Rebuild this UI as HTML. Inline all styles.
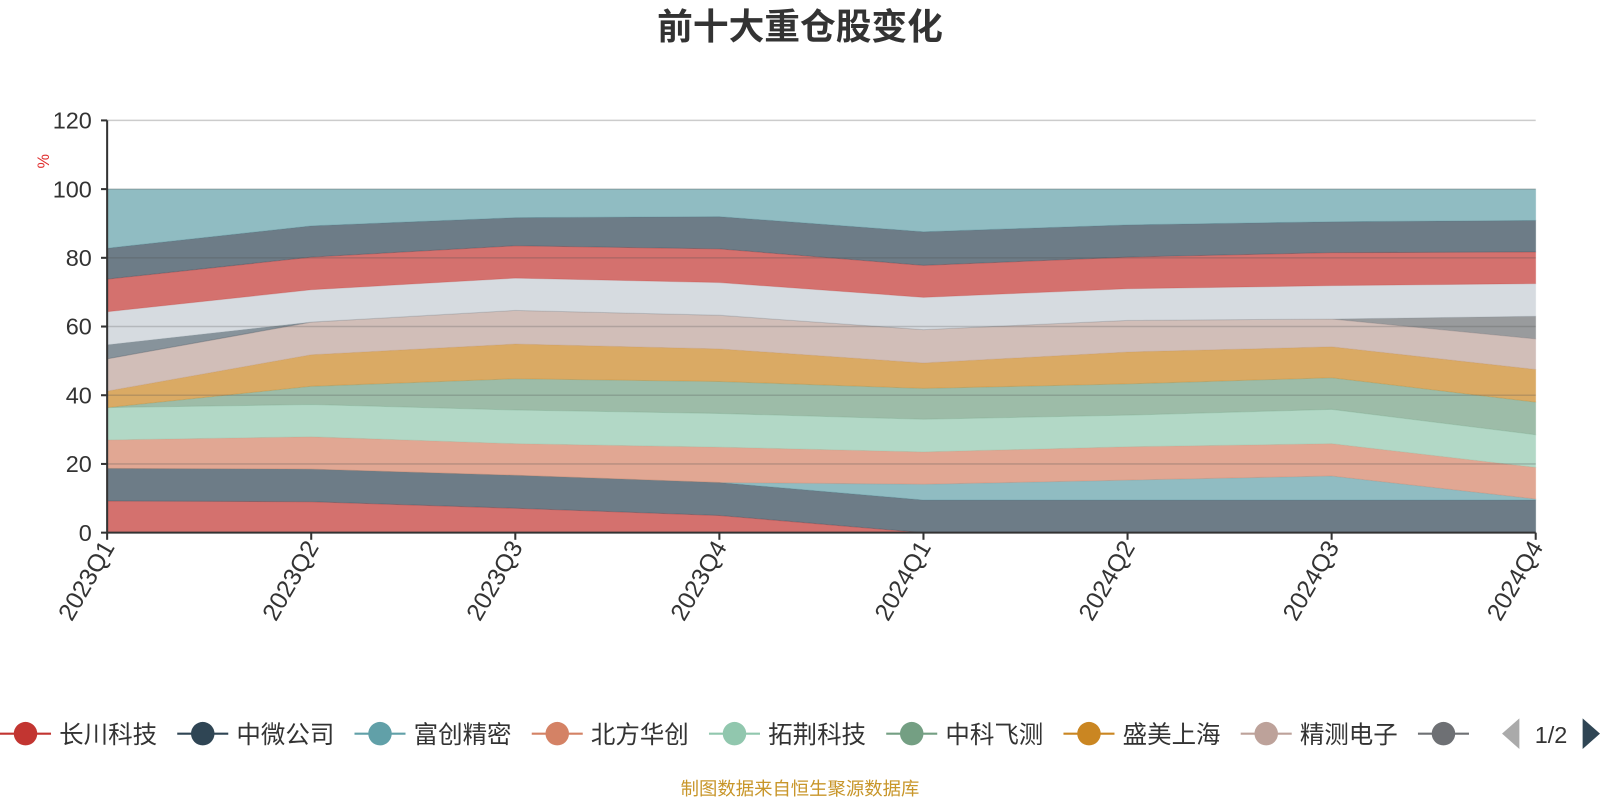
<!DOCTYPE html>
<html><head><meta charset="utf-8">
<style>
html,body{margin:0;padding:0;background:#fff;}
body{width:1600px;height:800px;overflow:hidden;font-family:"Liberation Sans","Noto Sans CJK SC",sans-serif;}
</style></head>
<body>
<svg id="chart" width="1600" height="800" xmlns="http://www.w3.org/2000/svg" font-family="Liberation Sans, Noto Sans CJK SC, sans-serif">
<g transform="scale(1.0204)">
<text x="784" y="38" text-anchor="middle" font-size="35" font-weight="bold" fill="#333">前十大重仓股变化</text>
<text x="0" y="0" transform="translate(48,158) rotate(-90)" text-anchor="middle" font-size="16" fill="#e03030">%</text>
<g id="grid"></g>
<g id="areas"></g>
<g id="axes"></g>
<g id="legend"></g>
<text x="784" y="779" text-anchor="middle" font-size="18" fill="#c8962a">制图数据来自恒生聚源数据库</text>
</g>
</svg>
<script>
const categories=["2023Q1","2023Q2","2023Q3","2023Q4","2024Q1","2024Q2","2024Q3","2024Q4"];
const yTicks=[0,20,40,60,80,100,120];
const s1=[9.2,9.0,7.1,5.0,0,0,0,0];
const s2=[9.5,9.5,9.6,9.6,9.5,9.5,9.5,9.5];
const s3=[0,0,0,0,4.6,5.8,7.0,0.3];
const s4=[8.3,9.4,9.2,10.3,9.4,9.7,9.4,9.2];
const s5=[9.4,9.4,9.8,9.8,9.5,9.2,10.0,9.5];
const s6=[0,5.3,9.1,9.3,9.0,9.1,9.2,9.5];
const s7=[4.8,9.2,10.1,9.5,7.4,9.3,9.0,9.5];
const s8=[9.4,9.5,9.8,9.8,9.7,9.2,8.1,8.9];
const s9=[0,0,0,0,0,0,0,6.6];
const s10=[4.1,0,0,0,0,0,0,0];
const s11=[9.6,9.4,9.4,9.5,9.4,9.2,9.7,9.5];
const s12=[9.5,9.5,9.4,9.8,9.3,9.2,9.6,9.2];
const s13=[9.0,9.1,8.2,9.4,9.8,9.4,9.0,9.2];
const s14=[17.2,10.7,8.3,8.0,12.4,10.4,9.5,9.1];
const series=[s1,s2,s3,s4,s5,s6,s7,s8,s9,s10,s11,s12,s13,s14];
const colors=["#c23531","#2f4554","#61a0a8","#d48265","#91c7ae","#749f83","#ca8622","#bda29a","#6e7074","#546570","#c4ccd3","#c23531","#2f4554","#61a0a8"];
const NS="http://www.w3.org/2000/svg";
const X0=105,X1=1505,Y0=522,Y1=118,YMAX=120;
function xs(i){return X0+(X1-X0)*i/(categories.length-1);}
function ys(v){return Y0-(Y0-Y1)*v/YMAX;}
function mk(tag,attrs,parent){const e=document.createElementNS(NS,tag);for(const k in attrs)e.setAttribute(k,attrs[k]);parent.appendChild(e);return e;}
const grid=document.getElementById('grid'),areas=document.getElementById('areas'),axes=document.getElementById('axes'),legend=document.getElementById('legend');
let base=categories.map(()=>0);
series.forEach((s,k)=>{
  const top=base.map((b,i)=>b+s[i]);
  let d="M"+categories.map((c,i)=>xs(i)+","+ys(top[i])).join(" L");
  for(let i=categories.length-1;i>=0;i--)d+=" L"+xs(i)+","+ys(base[i]);
  d+=" Z";
  const p=mk('path',{d:d,fill:colors[k],'fill-opacity':0.7,stroke:colors[k],'stroke-opacity':0.2,'stroke-width':1},areas);
  
  
  base=top;
});
yTicks.forEach(t=>{
  if(t===0)return;
  const l=mk('line',{x1:X0,x2:X1,y1:ys(t),y2:ys(t),stroke:t===120?'#ccc':'rgba(80,80,80,0.25)','stroke-width':1.5},t===120?grid:axes);
  
  
});
const ya=mk('line',{x1:X0,x2:X0,y1:Y1,y2:Y0,stroke:'#333','stroke-width':2},axes);


yTicks.forEach(t=>{
  mk('line',{x1:X0-6,x2:X0,y1:ys(t),y2:ys(t),stroke:'#333','stroke-width':2},axes);
  const tx=mk('text',{x:X0-15,y:ys(t)+8,'text-anchor':'end','font-size':23,fill:'#333'},axes);
  tx.textContent=t;
  
  
});
const xa=mk('line',{x1:X0,x2:X1,y1:Y0,y2:Y0,stroke:'#333','stroke-width':2},axes);


categories.forEach((c,i)=>{
  mk('line',{x1:xs(i),x2:xs(i),y1:Y0,y2:Y0+7,stroke:'#333','stroke-width':2},axes);
  const tx=mk('text',{x:0,y:0,transform:`translate(${xs(i)+8},${Y0+14}) rotate(-60)`,'text-anchor':'end','font-size':24,fill:'#333'},axes);
  tx.textContent=c;
  
  
});
const legendNames=["长川科技","中微公司","富创精密","北方华创","拓荆科技","中科飞测","盛美上海","精测电子","..."];
legendNames.forEach((n,i)=>{
  const cx=25+i*173.7;
  const g=mk('g',{},legend);
  
  
  mk('line',{x1:cx-25,x2:cx+25,y1:719,y2:719,stroke:colors[i],'stroke-width':2},g);
  mk('circle',{cx:cx,cy:719,r:11.5,fill:colors[i]},g);
  if(i<8){const t=mk('text',{x:cx+33,y:728,'font-size':24,fill:'#333'},g);t.textContent=n;}
});
const pl=mk('polygon',{points:'1489,704 1489,734 1472,719',fill:'#aaa'},legend);


const pt=mk('text',{x:1520,y:728,'text-anchor':'middle','font-size':23,fill:'#333'},legend);
pt.textContent='1/2';


const pn=mk('polygon',{points:'1551,704 1551,734 1568,719',fill:'#2f4554'},legend);


</script>
</body></html>
